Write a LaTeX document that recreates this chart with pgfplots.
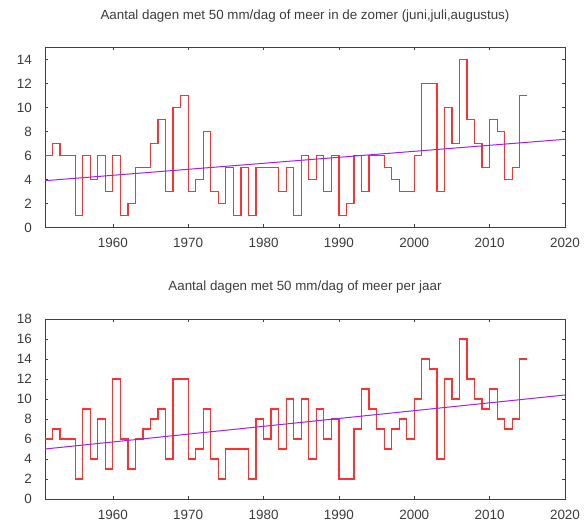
\documentclass[border=0pt]{standalone}
\usepackage{fontspec}
\setmainfont{Liberation Sans}
\usepackage{pgfplots}
\pgfplotsset{compat=1.18}

\definecolor{framegray}{HTML}{404040}
\definecolor{textgray}{HTML}{3C3C3C}
\definecolor{steprood}{HTML}{FF3030}
\definecolor{trendpurple}{HTML}{A020F0}

% one style for both panels (gnuplot look)
\pgfplotsset{knmi/.style={
    width=520bp, height=180bp, scale only axis,
    xmin=1951, xmax=2020, xtick={1960,1970,...,2020},
    ymin=0,
    axis line style={framegray, line width=0.8bp},
    tick style={framegray, line width=0.6bp},
    major tick length=3bp, tick align=inside,
    ticklabel style={font=\fontsize{13.5}{15}\selectfont, text=textgray},
    xticklabel style={anchor=base, inner sep=0pt, yshift=-20.5bp},
    yticklabel style={anchor=east, inner sep=0pt, xshift=-13bp},
    /pgf/number format/assume math mode=true,
    /pgf/number format/1000 sep={},
    title style={font=\fontsize{13.4}{15}\selectfont, text=textgray,
                 at={(0.5,1)}, anchor=base, yshift=22.5bp},
    clip=true,
}}

\begin{document}
\begin{tikzpicture}
\useasboundingbox (0,0) rectangle (588bp,522bp);

% zomer
\begin{axis}[knmi, at={(45bp,294.5bp)}, anchor=south west,
    ymax=15, ytick={0,2,...,14},
    title={Aantal dagen met 50 mm/dag of meer in de zomer (juni,juli,augustus)}]
\addplot[const plot, draw=steprood, line width=1.25bp] coordinates {
(1951,6) (1952,7) (1953,6) (1954,6) (1955,1) (1956,6) (1957,4) (1958,6)
(1959,3) (1960,6) (1961,1) (1962,2) (1963,5) (1964,5) (1965,7) (1966,9)
(1967,3) (1968,10) (1969,11) (1970,3) (1971,4) (1972,8) (1973,3) (1974,2)
(1975,5) (1976,1) (1977,5) (1978,1) (1979,5) (1980,5) (1981,5) (1982,3)
(1983,5) (1984,1) (1985,6) (1986,4) (1987,6) (1988,3) (1989,6) (1990,1)
(1991,2) (1992,6) (1993,3) (1994,6) (1995,6) (1996,5) (1997,4) (1998,3)
(1999,3) (2000,6) (2001,12) (2002,12) (2003,3) (2004,10) (2005,7) (2006,14)
(2007,9) (2008,7) (2009,5) (2010,9) (2011,8) (2012,4) (2013,5) (2014,11)
(2015,11)
};
\addplot[draw=trendpurple, line width=1bp] coordinates {(1951,3.9) (2020,7.35)};
\end{axis}

% heel jaar
\begin{axis}[knmi, at={(45bp,23bp)}, anchor=south west,
    ymax=18, ytick={0,2,...,18},
    title={Aantal dagen met 50 mm/dag of meer per jaar}]
\addplot[const plot, draw=steprood, line width=1.25bp] coordinates {
(1951,6) (1952,7) (1953,6) (1954,6) (1955,2) (1956,9) (1957,4) (1958,8)
(1959,3) (1960,12) (1961,6) (1962,3) (1963,6) (1964,7) (1965,8) (1966,9)
(1967,4) (1968,12) (1969,12) (1970,4) (1971,5) (1972,9) (1973,4) (1974,2)
(1975,5) (1976,5) (1977,5) (1978,2) (1979,8) (1980,6) (1981,9) (1982,5)
(1983,10) (1984,6) (1985,10) (1986,4) (1987,9) (1988,6) (1989,8) (1990,2)
(1991,2) (1992,7) (1993,11) (1994,9) (1995,7) (1996,5) (1997,7) (1998,8)
(1999,6) (2000,10) (2001,14) (2002,13) (2003,4) (2004,12) (2005,10) (2006,16)
(2007,12) (2008,10) (2009,9) (2010,11) (2011,8) (2012,7) (2013,8) (2014,14)
(2015,14)
};
\addplot[draw=trendpurple, line width=1bp] coordinates {(1951,5.0) (2020,10.4)};
\end{axis}
\end{tikzpicture}
\end{document}
